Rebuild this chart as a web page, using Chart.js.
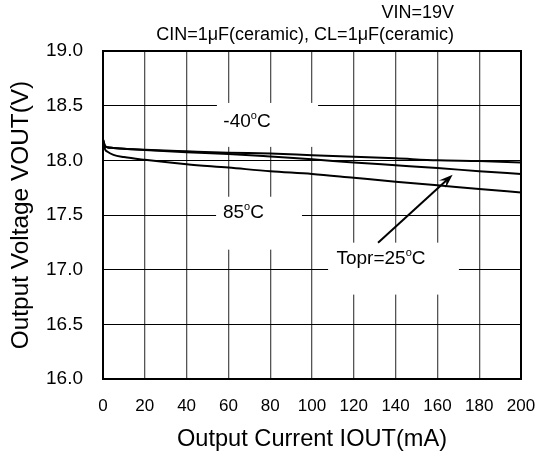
<!DOCTYPE html>
<html><head><meta charset="utf-8">
<script src="https://cdn.jsdelivr.net/npm/chart.js@4/dist/chart.umd.min.js"></script>
<style>html,body{margin:0;padding:0;background:#fff;overflow:hidden}#wrap{width:536px;height:459px;position:relative}</style>
</head><body><div id="wrap"><canvas id="c" width="536" height="459"></canvas></div>
<script>
// ---- data ----
const currents = [0, 1, 2, 5, 10, 20, 40, 60, 80, 100, 120, 140, 160, 180, 200];
const voutM40  = [18.19, 18.13, 18.12, 18.113, 18.106, 18.097, 18.083, 18.07, 18.062, 18.047, 18.033, 18.018, 18.0, 17.993, 17.98];
const vout25   = [18.19, 18.13, 18.12, 18.113, 18.105, 18.095, 18.075, 18.058, 18.035, 18.01, 17.98, 17.955, 17.93, 17.90, 17.875];
const vout85   = [18.19, 18.10, 18.08, 18.05, 18.03, 18.005, 17.965, 17.934, 17.90, 17.875, 17.84, 17.805, 17.772, 17.737, 17.706];
const xTickValues = [0, 20, 40, 60, 80, 100, 120, 140, 160, 180, 200];
const yTickValues = [16.0, 16.5, 17.0, 17.5, 18.0, 18.5, 19.0];
const yTickLabels = ['16.0', '16.5', '17.0', '17.5', '18.0', '18.5', '19.0'];
const headerLines = ['VIN=19V', 'CIN=1\u03bcF(ceramic), CL=1\u03bcF(ceramic)'];
const xTitle = 'Output Current IOUT(mA)';
const yTitle = 'Output Voltage VOUT(V)';
// in-plot labels (data coordinates): text before degree sign, after it
const labelParts = [['-40', 'C'], ['85', 'C'], ['Topr=25', 'C']];
const labelAt = [[68.9, 18.365], [67.2, 17.532], [133, 17.114]];
const labelBoxes = [[54.5, 102.9, 18.525, 18.123], [54.1, 95.2, 17.667, 17.183], [107.7, 170.3, 17.247, 16.772]];
const arrowFrom = [131.6, 17.247];
const arrowTo = [167.3, 17.868];

const FONT = '"Liberation Sans", Arial, Helvetica, sans-serif';

const lineDs = (data) => ({
  data: currents.map((x, i) => ({x, y: data[i]})),
  borderColor: '#000', borderWidth: 2, pointRadius: 0, fill: false,
  cubicInterpolationMode: 'monotone'
});

const deco = {
  id: 'deco',
  beforeDatasetsDraw(chart) {
    const {ctx, scales: {x, y}} = chart;
    ctx.save();
    ctx.fillStyle = '#fff';
    labelBoxes.forEach(b => {
      const l = x.getPixelForValue(b[0]), r = x.getPixelForValue(b[1]);
      const t = y.getPixelForValue(b[2]), bt = y.getPixelForValue(b[3]);
      ctx.fillRect(l, t, r - l, bt - t);
    });
    ctx.restore();
  },
  afterDatasetsDraw(chart) {
    const {ctx, scales: {x, y}, chartArea: a} = chart;
    ctx.save();
    const fs = 19, sfs = 11;
    labelParts.forEach((p, i) => {
      ctx.font = fs + 'px ' + FONT;
      const w1 = ctx.measureText(p[0]).width, w3 = ctx.measureText(p[1]).width;
      ctx.font = sfs + 'px ' + FONT;
      const w2 = ctx.measureText('o').width;
      const total = w1 + w2 + w3;
      const cx = x.getPixelForValue(labelAt[i][0]), cy = y.getPixelForValue(labelAt[i][1]);
      const base = cy + 0.358 * fs;
      let px = cx - total / 2;
      ctx.fillStyle = '#000';
      ctx.textBaseline = 'alphabetic';
      ctx.textAlign = 'left';
      ctx.font = fs + 'px ' + FONT;
      ctx.fillText(p[0], px, base); px += w1;
      ctx.font = sfs + 'px ' + FONT;
      ctx.fillText('o', px, base - 0.716 * fs + 0.519 * sfs); px += w2;
      ctx.font = fs + 'px ' + FONT;
      ctx.fillText(p[1], px, base);
    });
    const x0 = x.getPixelForValue(arrowFrom[0]), y0 = y.getPixelForValue(arrowFrom[1]);
    const x1 = x.getPixelForValue(arrowTo[0]), y1 = y.getPixelForValue(arrowTo[1]);
    const ang = Math.atan2(y1 - y0, x1 - x0);
    ctx.strokeStyle = '#000'; ctx.lineWidth = 2;
    ctx.beginPath(); ctx.moveTo(x0, y0);
    ctx.lineTo(x1 - 6 * Math.cos(ang), y1 - 6 * Math.sin(ang)); ctx.stroke();
    const L = 14, W = 5;
    ctx.beginPath();
    ctx.moveTo(x1, y1);
    ctx.lineTo(x1 - L * Math.cos(ang) + W * Math.sin(ang), y1 - L * Math.sin(ang) - W * Math.cos(ang));
    ctx.lineTo(x1 - 0.6 * L * Math.cos(ang), y1 - 0.6 * L * Math.sin(ang));
    ctx.lineTo(x1 - L * Math.cos(ang) - W * Math.sin(ang), y1 - L * Math.sin(ang) + W * Math.cos(ang));
    ctx.closePath(); ctx.fillStyle = '#000'; ctx.fill();
    ctx.lineWidth = 2;
    ctx.strokeRect(a.left, a.top, a.right - a.left, a.bottom - a.top);
    ctx.restore();
  },
  afterDraw(chart) {
    const {ctx} = chart;
    ctx.save();
    ctx.fillStyle = '#000';
    ctx.textAlign = 'right';
    ctx.textBaseline = 'middle';
    ctx.font = '18px ' + FONT;
    ctx.fillText(headerLines[0], 454, 13);
    ctx.fillText(headerLines[1], 454, 35);
    ctx.restore();
  }
};

new Chart(document.getElementById('c'), {
  type: 'line',
  data: { datasets: [lineDs(voutM40), lineDs(vout25), lineDs(vout85)] },
  options: {
    responsive: false, animation: false, devicePixelRatio: 1,
    layout: { padding: { top: 51, right: 15, left: 0, bottom: 0 } },
    plugins: { legend: { display: false }, tooltip: { enabled: false } },
    scales: {
      x: {
        type: 'linear', min: 0, max: 200,
        afterBuildTicks: s => { s.ticks = xTickValues.map(v => ({value: v})); },
        afterFit: s => { s.height = 80; s.paddingLeft = 0; s.paddingRight = 0; },
        ticks: { color: '#000', font: { size: 17, family: FONT }, padding: 17, maxRotation: 0, autoSkip: false },
        grid: { color: '#555', lineWidth: 1.3, drawTicks: false },
        border: { display: false },
        title: { display: true, text: xTitle, color: '#000', font: { size: 23.6, family: FONT }, padding: { top: 0, bottom: 5 } }
      },
      y: {
        type: 'linear', min: 16, max: 19,
        afterBuildTicks: s => { s.ticks = yTickValues.map(v => ({value: v})); },
        afterFit: s => { s.width = 103; s.paddingTop = 0; s.paddingBottom = 0; },
        ticks: { color: '#000', font: { size: 19, family: FONT }, padding: 20, autoSkip: false,
          callback: (v) => yTickLabels[yTickValues.indexOf(v)] ?? '' },
        grid: { color: '#000', lineWidth: 1, drawTicks: false },
        border: { display: false },
        title: { display: true, text: yTitle, color: '#000', font: { size: 24.4, family: FONT }, padding: { top: 7, bottom: 0 } }
      }
    }
  },
  plugins: [deco]
});
</script></body></html>
